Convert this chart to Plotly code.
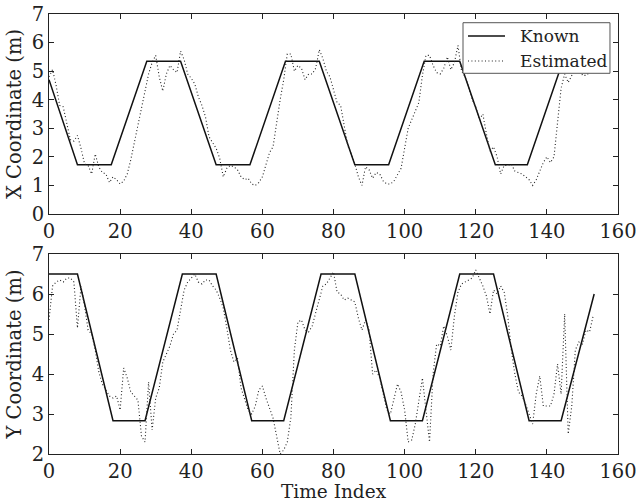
import plotly.graph_objects as go

# Time steps for the estimated tracks
time_index = list(range(154))

# Known path: breakpoints (time, value) of the piecewise-linear reference trajectory
known_x_t = [0, 8, 17.5, 27.5, 37, 47, 56.5, 66.5, 76, 86, 95.5, 105.5, 115.5, 125.5, 134.5, 144.5, 153]
known_x_v = [4.7, 1.72, 1.72, 5.35, 5.35, 1.72, 1.72, 5.35, 5.35, 1.72, 1.72, 5.35, 5.35, 1.72, 1.72, 5.35, 5.35]

known_y_t = [0, 8, 18, 27, 37.5, 47, 57, 66, 76.5, 86, 96, 105, 115.5, 125, 135, 144, 153.3]
known_y_v = [6.5, 6.5, 2.83, 2.83, 6.5, 6.5, 2.83, 2.83, 6.5, 6.5, 2.83, 2.83, 6.5, 6.5, 2.83, 2.83, 6.0]

# Estimated X coordinate (m), one value per time index
est_x = [
    4.8, 5.05, 4.5, 3.8, 3.75, 3.2, 2.6, 2.55, 2.75, 2.3,
    1.75, 1.7, 1.4, 2.1, 1.65, 1.45, 1.4, 1.1, 1.3, 1.2,
    1.05, 1.15, 1.4, 1.9, 2.5, 3.1, 3.8, 4.4, 4.9, 5.3,
    5.55, 4.8, 4.3, 4.9, 5.2, 5.05, 4.95, 5.7, 5.4, 4.9,
    4.75, 4.55, 4.1, 3.8, 3.4, 2.7, 2.5, 2.3, 1.95, 1.3,
    1.6, 1.7, 1.65, 1.55, 1.3, 1.2, 1.25, 1.05, 1.0, 1.1,
    1.3, 1.7, 2.15, 2.35, 3.2, 4.0, 4.7, 5.6, 5.6, 5.0,
    5.2, 5.1, 4.7, 4.9, 4.9, 5.1, 5.75, 5.45, 5.0, 4.8,
    4.35, 3.9, 3.8, 3.05, 2.4, 2.1, 1.75, 1.3, 1.0, 1.65,
    1.55, 1.25, 1.45, 1.4, 1.15, 1.05, 1.05, 1.15, 1.35, 1.6,
    2.3, 3.0, 3.3, 3.6, 3.9, 4.85, 5.55, 5.55, 5.2, 4.95,
    4.9, 5.1, 5.5, 5.05, 5.3, 5.9, 5.0, 4.8, 4.45, 4.0,
    3.75, 3.3, 3.5, 2.8, 2.2, 2.35, 2.0, 1.4, 1.7, 1.7,
    1.75, 1.5, 1.45, 1.4, 1.3, 1.2, 1.0, 1.2, 1.5, 1.8,
    2.0, 1.8, 2.0, 3.2, 4.4, 4.9, 4.6, 4.85, 5.1, 5.3,
    4.85, 4.85, 4.95, 5.1,
]

# Estimated Y coordinate (m), one value per time index
est_y = [
    5.35, 6.2, 6.3, 6.35, 6.3, 6.4, 6.4, 6.3, 5.15, 6.2,
    5.7, 5.1, 5.0, 4.6, 4.05, 3.75, 3.6, 3.45, 3.4, 3.45,
    3.1, 4.15, 3.9, 3.55, 3.45, 3.35, 2.45, 2.3, 3.8, 2.6,
    3.4, 3.65, 4.3, 4.5, 4.7, 5.0, 5.1, 5.6, 6.1, 6.3,
    6.4, 6.5, 6.3, 6.25, 6.35, 6.35, 6.2, 6.1, 5.9, 5.65,
    5.15, 4.6, 4.3, 4.4, 3.65, 3.35, 3.1, 3.0, 3.2, 3.6,
    3.7, 3.4, 3.15, 2.9, 2.45, 2.0, 2.1, 2.3, 2.9, 4.6,
    5.3, 5.35, 5.1, 5.05, 5.2, 5.55, 5.85, 6.2, 6.25, 6.4,
    6.55, 6.05, 6.0, 5.85, 5.9, 5.85, 5.8, 5.4, 5.1, 5.35,
    5.1, 4.0, 4.1, 3.9, 3.5, 3.1, 3.0, 3.4, 3.75, 3.55,
    3.1, 2.3, 2.35, 2.75, 3.3, 3.9, 3.1, 2.3, 4.0, 4.75,
    4.7, 5.2, 4.95, 4.6, 5.45, 6.05, 6.25, 6.3, 6.35, 6.4,
    6.6, 6.4, 6.2, 5.95, 5.5, 6.1, 6.0, 6.2, 6.05, 5.45,
    4.6, 4.0, 3.55, 3.45, 3.25, 3.0, 2.75, 3.5, 3.95, 3.2,
    3.2, 3.2, 3.5, 4.25, 3.5, 5.5, 2.5, 3.2, 4.6, 4.8,
    4.75, 5.1, 5.05, 5.45,
]

x_ticks = [0, 20, 40, 60, 80, 100, 120, 140, 160]
series_names = ["Known", "Estimated"]

FONT = "DejaVu Serif"
TXT = 19.5
INK = "#222222"
known_style = dict(color="#111111", width=1.5)
est_style = dict(color=INK, width=1.1, dash="1px,2.4px")

fig = go.Figure()

fig.add_trace(go.Scatter(x=known_x_t, y=known_x_v, mode="lines", name=series_names[0],
                         line=known_style, xaxis="x", yaxis="y"))
fig.add_trace(go.Scatter(x=time_index, y=est_x, mode="lines", name=series_names[1],
                         line=est_style, xaxis="x", yaxis="y"))
fig.add_trace(go.Scatter(x=known_y_t, y=known_y_v, mode="lines", name=series_names[0],
                         line=known_style, xaxis="x2", yaxis="y2"))
fig.add_trace(go.Scatter(x=time_index, y=est_y, mode="lines", name=series_names[1],
                         line=est_style, xaxis="x2", yaxis="y2"))

axis_common = dict(
    showline=True, linecolor=INK, linewidth=1, mirror="allticks",
    ticks="inside", ticklen=5, tickcolor=INK, tickwidth=1,
    showgrid=False, zeroline=False, automargin=False,
    tickfont=dict(family=FONT, size=TXT, color=INK),
)

# Compact legend box in the upper-right corner of the top panel (paper coordinates)
box = dict(x0=0.7276, x1=0.9859, y0=0.8652, y1=0.9802)
sample_x = (0.7364, 0.8014)
row_y = [0.950, 0.8932]
text_x = 0.8243

shapes = [dict(type="rect", xref="paper", yref="paper", layer="above",
               fillcolor="white", line=dict(color="#555555", width=1), **box)]
annotations = []
for name, y, style in zip(series_names, row_y, [known_style, est_style]):
    shapes.append(dict(type="line", xref="paper", yref="paper", layer="above",
                       x0=sample_x[0], x1=sample_x[1], y0=y, y1=y, line=style))
    annotations.append(dict(text=name, xref="paper", yref="paper", x=text_x, y=y,
                            xanchor="left", yanchor="middle", showarrow=False,
                            font=dict(family=FONT, size=17, color=INK)))

# Shared x-axis label under the lower panel
annotations.append(dict(text="Time Index", xref="paper", yref="paper", x=0.5, y=0,
                        xanchor="center", yanchor="top", yshift=-25.5, borderpad=0,
                        showarrow=False, font=dict(family=FONT, size=18.5, color=INK)))

fig.update_layout(
    width=640, height=503,
    margin=dict(l=49, r=22, t=14, b=49),
    paper_bgcolor="white", plot_bgcolor="white",
    font=dict(family=FONT, color=INK),
    showlegend=False,
    xaxis=dict(domain=[0, 1], anchor="y", range=[0, 160], tickvals=x_ticks, **axis_common),
    yaxis=dict(domain=[0.5455, 1], anchor="x", range=[0, 7], dtick=1,
               title=dict(text="X Coordinate (m)", font=dict(family=FONT, size=TXT), standoff=4),
               **axis_common),
    xaxis2=dict(domain=[0, 1], anchor="y2", range=[0, 160], tickvals=x_ticks,
                **axis_common),
    yaxis2=dict(domain=[0, 0.4545], anchor="x2", range=[2, 7], dtick=1,
                title=dict(text="Y Coordinate (m)", font=dict(family=FONT, size=TXT), standoff=4),
                **axis_common),
    shapes=shapes,
    annotations=annotations,
)

fig.write_html("out.html")
